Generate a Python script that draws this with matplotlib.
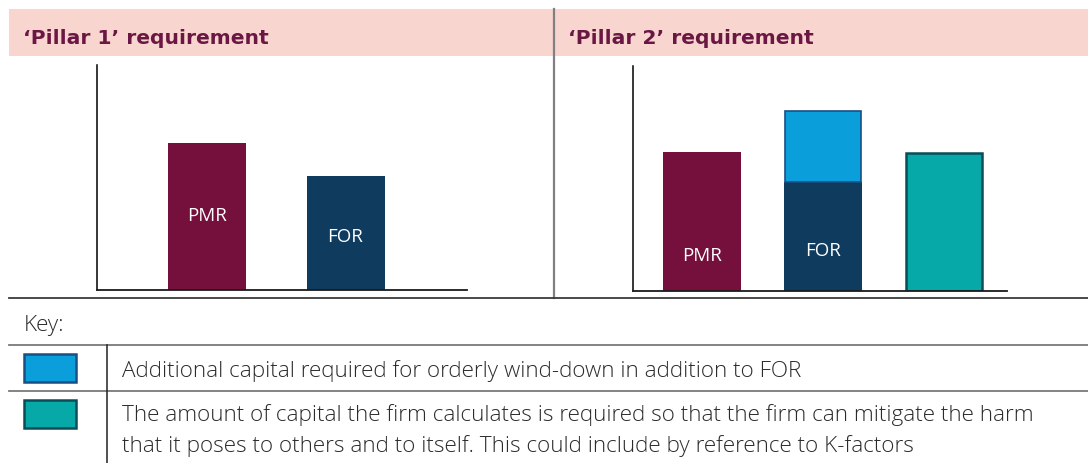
import numpy as np
import matplotlib.pyplot as plt
from matplotlib.patches import Rectangle

W, H = 1088, 464

# data (illustrative heights, axis scale 0-100)
p1_labels = ["PMR", "FOR"]
p1_values = [65.5, 50.5]
p1_text_y = [33.5, 24]

p2_labels = ["PMR", "FOR", ""]
p2_base = [61.4, 48.4, 61.3]
p2_winddown = [0, 31.5, 0]
p2_text_y = [16, 17.8, 0]

key_row1 = "Additional capital required for orderly wind-down in addition to FOR"
key_row2 = [
    "The amount of capital the firm calculates is required so that the firm can mitigate the harm",
    "that it poses to others and to itself. This could include by reference to K-factors",
]

PMR_C = "#75103c"
FOR_C = "#0f3b5f"
WIND_C = "#0a9fdb"
WIND_E = "#1a4f85"
TEAL_C = "#06a8a8"
TEAL_E = "#0b4d57"
TITLE_C = "#6b1744"
PINK = "#f9d5d0"
TXT = "#2b2b2b"

BODY = ["Open Sans", "DejaVu Sans"]
plt.rcParams['font.family'] = ["DejaVu Sans"]


def px_axes(fig, l, t, r, b):
    return fig.add_axes([l / W, 1 - b / H, (r - l) / W, (b - t) / H])


fig = plt.figure(figsize=(W / 100, H / 100), dpi=100)

# overlay in pixel coords for the table chrome
bg = fig.add_axes([0, 0, 1, 1])
bg.set_xlim(0, W)
bg.set_ylim(H, 0)
bg.axis('off')

bg.add_patch(Rectangle((9, 9.5), W - 9, 47.5, facecolor=PINK, edgecolor='none'))
bg.text(23, 44.5, "\u2018Pillar 1\u2019 requirement", color=TITLE_C, fontsize=14.6,
        fontweight='bold', va='baseline')
bg.text(568, 44.5, "\u2018Pillar 2\u2019 requirement", color=TITLE_C, fontsize=14.6,
        fontweight='bold', va='baseline')
bg.plot([554, 554], [9.5, 299], color="#808080", lw=1.6)
bg.plot([9, W], [299.3, 299.3], color="#3a3a3a", lw=1.3)
bg.plot([9, W], [346, 346], color="#7a7a7a", lw=1.3)
bg.plot([9, W], [392, 392], color="#7a7a7a", lw=1.3)
bg.plot([107, 107], [346, H], color="#222222", lw=1.1)

bg.text(24, 331, "Key:", color=TXT, fontsize=16.2, family=BODY, fontweight='light',
        va='baseline')
bg.add_patch(Rectangle((24, 354.5), 52, 28.5, facecolor=WIND_C, edgecolor=WIND_E, lw=1.8))
bg.add_patch(Rectangle((24, 400.5), 52, 28.5, facecolor=TEAL_C, edgecolor=TEAL_E, lw=1.8))
bg.text(122, 377.5, key_row1, color=TXT, fontsize=16.2, family=BODY,
        fontweight='light', va='baseline')
for i, line in enumerate(key_row2):
    bg.text(122, 421 + 31 * i, line, color=TXT, fontsize=16.2, family=BODY,
            fontweight='light', va='baseline')


def style(ax):
    ax.set_facecolor('none')
    for s in ["top", "right"]:
        ax.spines[s].set_visible(False)
    ax.spines["left"].set_linewidth(1.1)
    ax.spines["bottom"].set_linewidth(1.3)
    ax.spines["bottom"].set_color("#1a1a1a")
    ax.set_xticks([])
    ax.set_yticks([])
    ax.set_ylim(0, 100)


# Pillar 1
ax1 = px_axes(fig, 97, 66, 467, 291)
style(ax1)
x1 = np.arange(len(p1_labels))
ax1.bar(x1, p1_values, width=0.565, color=[PMR_C, FOR_C], edgecolor='none')
ax1.set_xlim(-0.80, 1.88)
for xi, lab, ty in zip(x1, p1_labels, p1_text_y):
    ax1.text(xi, ty, lab, color='white', fontsize=13.5, family=BODY,
             ha='center', va='center')

# Pillar 2
ax2 = px_axes(fig, 633, 66.7, 1006.7, 291.5)
style(ax2)
x2 = np.arange(len(p2_labels))
ax2.bar(x2[:2], p2_base[:2], width=0.646, color=[PMR_C, FOR_C], edgecolor='none')
ax2.bar(x2[1], p2_winddown[1], bottom=p2_base[1], width=0.632,
        color=WIND_C, edgecolor=WIND_E, lw=1.2)
ax2.bar(x2[2], p2_base[2], width=0.632, color=TEAL_C, edgecolor=TEAL_E, lw=1.8)
ax2.set_xlim(-0.574, 2.52)
for xi, lab, ty in zip(x2, p2_labels, p2_text_y):
    if lab:
        ax2.text(xi, ty, lab, color='white', fontsize=13.5, family=BODY,
                 ha='center', va='center')

fig.savefig("out.png", dpi=100)
